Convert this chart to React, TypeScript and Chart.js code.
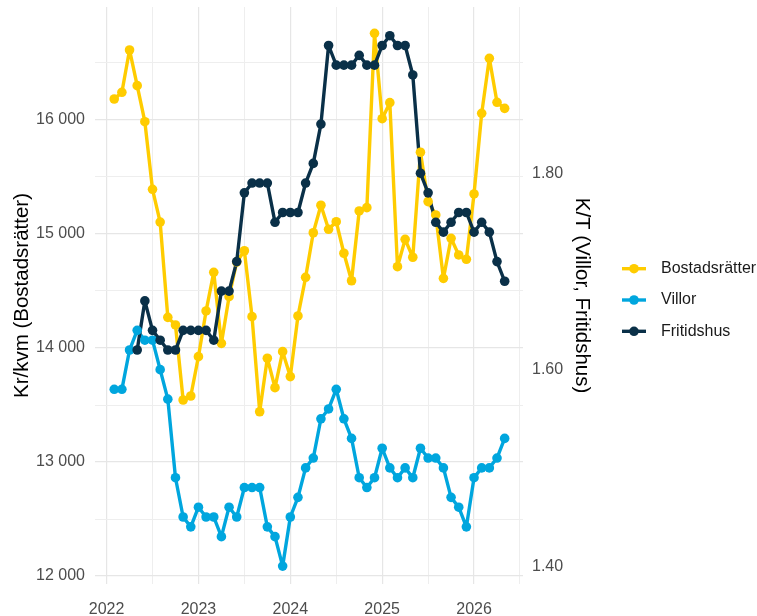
import React, { useEffect, useRef } from 'react';
import { Chart, registerables } from 'chart.js';

Chart.register(...registerables);

const months = [
  '2022-02', '2022-03', '2022-04', '2022-05', '2022-06', '2022-07', '2022-08', '2022-09', '2022-10', '2022-11', '2022-12',
  '2023-01', '2023-02', '2023-03', '2023-04', '2023-05', '2023-06', '2023-07', '2023-08', '2023-09', '2023-10', '2023-11', '2023-12',
  '2024-01', '2024-02', '2024-03', '2024-04', '2024-05', '2024-06', '2024-07', '2024-08', '2024-09', '2024-10', '2024-11', '2024-12',
  '2025-01', '2025-02', '2025-03', '2025-04', '2025-05', '2025-06', '2025-07', '2025-08', '2025-09', '2025-10', '2025-11', '2025-12',
  '2026-01', '2026-02', '2026-03', '2026-04', '2026-05',
];

// Kr/kvm (left axis)
const bostadsratter = [
  16184, 16243, 16614, 16301, 15985, 15392, 15105, 14269, 14202, 13544,
  13579, 13924, 14325, 14664, 14041, 14450, 14754, 14853, 14275, 13441,
  13910, 13652, 13968, 13749, 14281, 14620, 15011, 15252, 15041, 15108,
  14831, 14590, 15202, 15231, 16760, 16011, 16152, 14713, 14953, 14796,
  15717, 15284, 15167, 14611, 14962, 14816, 14778, 15351, 16058, 16541,
  16155, 16102,
];

// K/T (right axis)
const villor = [
  1.58, 1.58, 1.62, 1.64, 1.63, 1.63, 1.60, 1.57, 1.49, 1.45,
  1.44, 1.46, 1.45, 1.45, 1.43, 1.46, 1.45, 1.48, 1.48, 1.48,
  1.44, 1.43, 1.40, 1.45, 1.47, 1.50, 1.51, 1.55, 1.56, 1.58,
  1.55, 1.53, 1.49, 1.48, 1.49, 1.52, 1.50, 1.49, 1.50, 1.49,
  1.52, 1.51, 1.51, 1.50, 1.47, 1.46, 1.44, 1.49, 1.50, 1.50,
  1.51, 1.53,
];

const fritidshus = [
  null, null, null, 1.62, 1.67, 1.64, 1.63, 1.62, 1.62, 1.64,
  1.64, 1.64, 1.64, 1.63, 1.68, 1.68, 1.71, 1.78, 1.79, 1.79,
  1.79, 1.75, 1.76, 1.76, 1.76, 1.79, 1.81, 1.85, 1.93, 1.91,
  1.91, 1.91, 1.92, 1.91, 1.91, 1.93, 1.94, 1.93, 1.93, 1.90,
  1.80, 1.78, 1.75, 1.74, 1.75, 1.76, 1.76, 1.74, 1.75, 1.74,
  1.71, 1.69,
];

// Tick / grid values
const xGridValues = [2022, 2022.5, 2023, 2023.5, 2024, 2024.5, 2025, 2025.5, 2026, 2026.5];
const xLabelValues = [2022, 2023, 2024, 2025, 2026];
const leftGridValues = [12000, 12500, 13000, 13500, 14000, 14500, 15000, 15500, 16000, 16500];
const leftLabelValues = [12000, 13000, 14000, 15000, 16000];
const rightTickValues = [1.4, 1.6, 1.8];

const seriesNames = ['Bostadsrätter', 'Villor', 'Fritidshus'];
const seriesColors = ['#FFCC00', '#00A6DE', '#0A3048'];
const seriesAxes = ['y', 'y1', 'y1'];
const seriesValues = [bostadsratter, villor, fritidshus];

const leftTitle = 'Kr/kvm (Bostadsrätter)';
const rightTitle = 'K/T (Villor, Fritidshus)';

const FONT = '"Liberation Sans", Arial, sans-serif';

function monthToYear(s: string): number {
  const [y, m] = s.split('-').map(Number);
  return y + (m - 1) / 12;
}

function fmtThousands(v: number): string {
  return String(Math.round(v)).replace(/\B(?=(\d{3})+(?!\d))/g, ' ');
}

const near = (list: number[], v: number) => list.some((t) => Math.abs(t - v) < 1e-6);

const legendPlugin = {
  id: 'ggLegend',
  afterDraw(chart: any) {
    const ctx = chart.ctx;
    const area = chart.chartArea;
    const cx = area.right + 111;
    const midY = 300;
    const gap = 31.3;
    ctx.save();
    seriesNames.forEach((name, i) => {
      const y = midY + (i - 1) * gap;
      ctx.strokeStyle = seriesColors[i];
      ctx.lineWidth = 3.4;
      ctx.beginPath();
      ctx.moveTo(cx - 12, y);
      ctx.lineTo(cx + 12, y);
      ctx.stroke();
      ctx.fillStyle = seriesColors[i];
      ctx.beginPath();
      ctx.arc(cx, y, 4.8, 0, Math.PI * 2);
      ctx.fill();
      ctx.fillStyle = '#1a1a1a';
      ctx.font = '16px ' + FONT;
      ctx.textBaseline = 'middle';
      ctx.textAlign = 'left';
      ctx.fillText(name, cx + 27, y);
    });
    ctx.restore();
  },
};

export default function App() {
  const ref = useRef<HTMLCanvasElement | null>(null);

  useEffect(() => {
    document.body.style.margin = '0';
    const canvas = ref.current;
    if (!canvas) return;

    const xs = months.map(monthToYear);
    const lineSets: any[] = [];
    const pointSets: any[] = [];
    seriesValues.forEach((vals, i) => {
      const data = vals.map((v, k) => ({ x: xs[k], y: v }));
      lineSets.push({
        label: seriesNames[i] + ' line',
        data,
        yAxisID: seriesAxes[i],
        borderColor: seriesColors[i],
        backgroundColor: seriesColors[i],
        borderWidth: 3.4,
        borderJoinStyle: 'round',
        borderCapStyle: 'round',
        pointRadius: 0,
        tension: 0,
        spanGaps: false,
        order: 20 - i,
      });
      pointSets.push({
        label: seriesNames[i],
        data,
        yAxisID: seriesAxes[i],
        showLine: false,
        borderColor: seriesColors[i],
        backgroundColor: seriesColors[i],
        pointBackgroundColor: seriesColors[i],
        pointBorderWidth: 0,
        pointRadius: 4.8,
        order: 10 - i,
      });
    });

    const gridColor = (majors: number[]) => (ctx: any) =>
      ctx.tick && near(majors, ctx.tick.value) ? '#E6E6E6' : '#EEEEEE';
    const gridWidth = (majors: number[]) => (ctx: any) =>
      ctx.tick && near(majors, ctx.tick.value) ? 1.2 : 1;

    const chart = new Chart(canvas, {
      type: 'line',
      data: { datasets: [...pointSets, ...lineSets] },
      plugins: [legendPlugin],
      options: {
        animation: false,
        responsive: false,
        events: [],
        layout: { padding: { top: 7, left: 0, right: 157, bottom: 0 } },
        plugins: {
          legend: { display: false },
          tooltip: { enabled: false },
        },
        scales: {
          x: {
            type: 'linear',
            min: 2021.874,
            max: 2026.533,
            border: { display: false },
            grid: {
              color: gridColor(xLabelValues),
              lineWidth: gridWidth(xLabelValues),
              drawTicks: false,
            },
            afterBuildTicks: (s: any) => {
              s.ticks = xGridValues.map((v) => ({ value: v }));
            },
            ticks: {
              autoSkip: false,
              maxRotation: 0,
              padding: 16,
              color: '#4D4D4D',
              font: { family: FONT, size: 16 },
              callback: (v: any) => (near(xLabelValues, v) ? String(Math.round(v)) : ''),
            },
            afterFit: (s: any) => {
              s.height = 32;
              s.paddingLeft = 0;
              s.paddingRight = 0;
            },
          },
          y: {
            type: 'linear',
            position: 'left',
            min: 11930,
            max: 16991,
            border: { display: false },
            grid: {
              color: gridColor(leftLabelValues),
              lineWidth: gridWidth(leftLabelValues),
              drawTicks: false,
            },
            afterBuildTicks: (s: any) => {
              s.ticks = leftGridValues.map((v) => ({ value: v }));
            },
            ticks: {
              autoSkip: false,
              padding: 10,
              color: '#4D4D4D',
              font: { family: FONT, size: 16 },
              callback: (v: any) => (near(leftLabelValues, v) ? fmtThousands(v) : ''),
            },
            title: {
              display: true,
              text: leftTitle,
              color: '#000000',
              font: { family: FONT, size: 20.5, lineHeight: 1.2 },
              padding: { top: 10, bottom: 0 },
            },
            afterFit: (s: any) => {
              s.width = 95;
              s.paddingTop = 0;
              s.paddingBottom = 0;
            },
          },
          y1: {
            type: 'linear',
            position: 'right',
            min: 1.3818,
            max: 1.9692,
            border: { display: false },
            grid: { display: false, drawTicks: false },
            afterBuildTicks: (s: any) => {
              s.ticks = rightTickValues.map((v) => ({ value: v }));
            },
            ticks: {
              autoSkip: false,
              padding: 9,
              color: '#4D4D4D',
              font: { family: FONT, size: 16 },
              callback: (v: any) => Number(v).toFixed(2),
            },
            title: {
              display: true,
              text: rightTitle,
              color: '#000000',
              font: { family: FONT, size: 20.5, lineHeight: 1.2 },
              padding: { top: 6, bottom: 0 },
            },
            afterFit: (s: any) => {
              s.width = 77;
              s.paddingTop = 0;
              s.paddingBottom = 0;
            },
          },
        },
      } as any,
    });

    return () => chart.destroy();
  }, []);

  return (
    <div style={{ position: 'absolute', left: 0, top: 0, width: 757, height: 616, background: '#fff' }}>
      <canvas ref={ref} width={757} height={616} style={{ display: 'block' }} />
    </div>
  );
}
